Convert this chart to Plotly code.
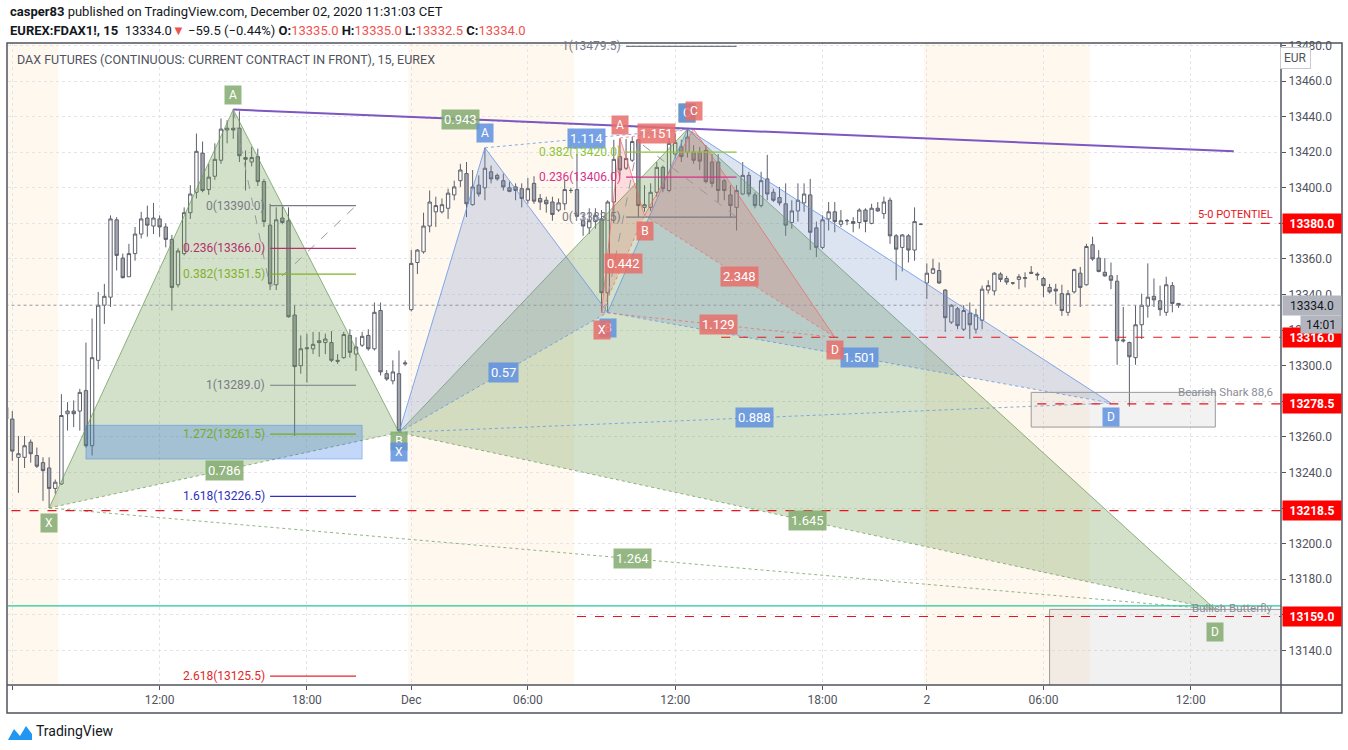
import plotly.graph_objects as go

# 15-minute bars of FDAX1!, index 0 = 30 Nov 2020 12:00 CET
bar_index = list(range(-25, 167))
opens = [
    13276.5, 13270.0, 13248.5, 13248.5, 13257.0, 13249.5, 13245.5, 13242.5, 13231.0, 13233.5,
    13273.0, 13274.5, 13274.5, 13286.0, 13255.0, 13303.0, 13334.0, 13338.5, 13382.0, 13360.5,
    13350.0, 13363.0, 13374.0, 13383.0, 13378.5, 13382.5, 13378.0, 13371.0, 13345.5, 13363.0,
    13386.0, 13397.5, 13419.5, 13399.0, 13406.5, 13415.5, 13432.5, 13433.5, 13433.5, 13417.0,
    13414.5, 13417.5, 13403.5, 13379.0, 13345.5, 13383.0, 13381.5, 13328.5, 13300.0, 13309.5,
    13309.5, 13314.0, 13313.0, 13313.0, 13303.0, 13304.5, 13317.0, 13306.5, 13311.5, 13317.0,
    13309.5, 13331.0, 13295.5, 13291.5, 13295.5, 13301.0, 13331.5, 13358.0, 13364.0, 13378.5,
    13386.5, 13386.5, 13388.5, 13396.0, 13404.0, 13408.0, 13390.5, 13401.5, 13400.0, 13409.0,
    13407.0, 13404.0, 13400.0, 13400.5, 13399.5, 13393.0, 13402.5, 13394.0, 13393.0, 13392.0,
    13387.5, 13391.0, 13398.5, 13399.0, 13381.5, 13377.5, 13381.0, 13382.5, 13341.0, 13392.0,
    13417.5, 13411.0, 13415.5, 13427.0, 13389.0, 13389.0, 13397.5, 13411.5, 13398.5, 13419.0,
    13423.0, 13420.0, 13420.0, 13420.0, 13421.0, 13414.5, 13414.5, 13404.0, 13396.0, 13389.0,
    13396.5, 13407.0, 13396.0, 13390.0, 13405.0, 13397.5, 13394.5, 13391.0, 13380.5, 13387.0,
    13391.5, 13396.0, 13377.5, 13366.5, 13382.5, 13386.5, 13379.5, 13381.5, 13381.0, 13380.5,
    13387.5, 13380.0, 13388.5, 13385.5, 13393.0, 13373.0, 13366.5, 13373.0, 13365.0, 13379.5,
    13346.5, 13352.0, 13353.5, 13342.5, 13324.5, 13332.0, 13320.5, 13329.5, 13320.5, 13325.5,
    13342.5, 13342.0, 13351.5, 13349.0, 13346.5, 13348.5, 13349.0, 13352.5, 13351.5, 13349.0,
    13344.0, 13343.0, 13340.5, 13330.0, 13341.5, 13352.0, 13345.5, 13368.0, 13360.5, 13352.5,
    13350.5, 13347.5, 13314.5, 13313.0, 13304.5, 13323.0, 13333.5, 13339.0, 13336.5, 13330.0,
    13345.0, 13335.0]
highs = [
    13278.0, 13274.5, 13260.5, 13260.5, 13258.5, 13254.0, 13248.5, 13248.5, 13236.0, 13284.0,
    13279.5, 13280.5, 13287.0, 13313.0, 13326.5, 13341.5, 13346.0, 13384.5, 13383.5, 13363.0,
    13368.5, 13378.0, 13386.5, 13390.0, 13391.5, 13384.5, 13380.0, 13373.5, 13366.0, 13389.0,
    13401.5, 13430.5, 13426.0, 13413.5, 13425.0, 13439.0, 13438.0, 13444.0, 13443.0, 13421.0,
    13423.0, 13422.0, 13405.0, 13391.0, 13389.0, 13389.5, 13389.0, 13334.0, 13317.0, 13318.0,
    13319.0, 13319.0, 13318.0, 13319.5, 13306.5, 13319.0, 13320.5, 13316.0, 13319.0, 13320.5,
    13335.5, 13335.5, 13297.5, 13303.0, 13308.5, 13303.0, 13365.0, 13365.5, 13386.0, 13398.5,
    13395.0, 13394.0, 13399.5, 13404.0, 13413.5, 13414.5, 13410.0, 13407.0, 13422.5, 13412.5,
    13408.0, 13408.0, 13403.5, 13402.5, 13402.5, 13405.5, 13406.5, 13396.5, 13395.0, 13395.0,
    13394.0, 13404.0, 13400.0, 13419.0, 13385.5, 13388.5, 13388.5, 13387.5, 13393.0, 13427.0,
    13427.5, 13427.5, 13428.5, 13427.5, 13401.5, 13402.5, 13414.5, 13412.5, 13428.5, 13430.5,
    13427.0, 13433.0, 13424.0, 13423.0, 13424.0, 13419.0, 13419.0, 13405.0, 13401.5, 13401.5,
    13414.5, 13409.0, 13397.5, 13409.0, 13418.5, 13399.5, 13400.5, 13402.5, 13393.0, 13402.5,
    13402.5, 13405.0, 13381.0, 13384.5, 13392.0, 13392.0, 13387.5, 13382.5, 13383.5, 13388.5,
    13388.5, 13391.0, 13392.0, 13395.0, 13394.5, 13374.0, 13374.0, 13374.0, 13389.0, 13380.0,
    13357.5, 13360.0, 13358.0, 13343.0, 13334.5, 13333.0, 13334.0, 13335.5, 13332.0, 13345.0,
    13348.0, 13352.5, 13352.5, 13350.5, 13347.0, 13351.5, 13352.5, 13356.0, 13352.5, 13350.0,
    13346.0, 13346.0, 13345.5, 13342.5, 13354.5, 13355.5, 13368.5, 13372.5, 13365.0, 13360.5,
    13358.0, 13351.0, 13333.0, 13313.5, 13334.0, 13340.5, 13357.5, 13349.0, 13345.0, 13350.0,
    13347.0, 13335.0]
lows = [
    13268.0, 13246.5, 13228.5, 13242.5, 13245.5, 13242.5, 13224.0, 13220.0, 13228.0, 13233.0,
    13263.5, 13265.5, 13263.5, 13254.0, 13249.5, 13298.0, 13323.5, 13333.0, 13353.5, 13349.0,
    13350.0, 13359.0, 13371.5, 13372.5, 13374.0, 13372.5, 13366.5, 13331.0, 13344.0, 13362.0,
    13382.5, 13394.0, 13397.5, 13396.0, 13404.5, 13413.5, 13425.0, 13427.5, 13414.5, 13398.5,
    13412.0, 13401.0, 13378.0, 13342.5, 13342.5, 13379.5, 13327.0, 13260.5, 13295.5, 13290.5,
    13306.5, 13305.0, 13306.5, 13302.0, 13301.0, 13304.0, 13304.5, 13297.0, 13310.5, 13308.5,
    13308.5, 13294.5, 13291.5, 13289.5, 13262.5, 13300.0, 13330.5, 13351.5, 13363.0, 13375.0,
    13378.0, 13385.5, 13382.5, 13393.0, 13400.5, 13383.5, 13390.0, 13395.0, 13393.0, 13402.5,
    13404.0, 13398.5, 13397.5, 13393.0, 13389.0, 13391.0, 13391.0, 13387.5, 13386.0, 13381.5,
    13386.5, 13387.5, 13397.0, 13383.5, 13373.0, 13374.0, 13377.0, 13330.0, 13330.0, 13380.0,
    13407.0, 13410.0, 13414.5, 13383.5, 13386.5, 13387.0, 13395.0, 13397.5, 13397.5, 13416.5,
    13414.5, 13417.0, 13413.5, 13410.0, 13402.5, 13400.5, 13392.0, 13393.0, 13383.5, 13376.0,
    13396.0, 13395.0, 13388.5, 13389.0, 13393.0, 13392.0, 13390.0, 13373.0, 13377.0, 13381.0,
    13386.5, 13365.0, 13361.0, 13365.5, 13376.0, 13375.0, 13378.0, 13379.0, 13375.0, 13377.0,
    13375.0, 13379.5, 13386.5, 13382.5, 13368.5, 13348.0, 13353.0, 13358.0, 13359.0, 13379.0,
    13337.5, 13351.5, 13346.0, 13319.0, 13323.5, 13320.5, 13319.5, 13315.0, 13318.0, 13320.5,
    13340.5, 13339.5, 13347.0, 13345.5, 13345.5, 13343.0, 13344.0, 13351.5, 13348.0, 13338.5,
    13340.5, 13334.5, 13328.0, 13328.0, 13340.5, 13333.0, 13345.0, 13359.0, 13352.5, 13350.0,
    13343.0, 13300.5, 13313.0, 13277.0, 13300.5, 13315.0, 13327.0, 13333.0, 13328.0, 13328.0,
    13330.0, 13332.5]
closes = [
    13270.0, 13252.0, 13250.5, 13255.0, 13250.5, 13243.5, 13241.0, 13231.0, 13234.5, 13272.0,
    13274.5, 13273.0, 13285.0, 13255.0, 13304.5, 13334.0, 13339.0, 13382.5, 13362.0, 13349.5,
    13363.0, 13374.0, 13382.5, 13379.0, 13383.0, 13378.0, 13371.0, 13344.0, 13364.5, 13386.0,
    13396.5, 13420.5, 13398.5, 13406.0, 13416.0, 13433.0, 13433.5, 13432.5, 13418.0, 13416.0,
    13417.0, 13403.5, 13381.0, 13346.0, 13382.0, 13380.5, 13327.5, 13299.5, 13309.5, 13310.0,
    13312.0, 13313.0, 13315.0, 13303.0, 13302.5, 13317.5, 13307.5, 13310.5, 13316.5, 13309.5,
    13330.0, 13296.5, 13292.5, 13296.5, 13263.5, 13301.5, 13357.5, 13365.0, 13378.5, 13392.0,
    13390.0, 13390.5, 13397.0, 13400.5, 13410.0, 13391.0, 13400.5, 13396.5, 13411.0, 13405.0,
    13405.0, 13400.5, 13398.0, 13398.5, 13394.0, 13399.5, 13392.5, 13392.0, 13391.0, 13385.0,
    13391.5, 13399.0, 13398.5, 13384.0, 13378.5, 13381.5, 13384.5, 13341.0, 13392.0, 13416.0,
    13410.0, 13416.5, 13426.0, 13390.0, 13390.5, 13397.5, 13411.5, 13399.5, 13425.0, 13425.5,
    13417.5, 13428.5, 13415.5, 13415.0, 13403.5, 13402.5, 13398.5, 13398.5, 13390.0, 13398.5,
    13407.0, 13396.5, 13390.0, 13404.0, 13396.5, 13393.0, 13391.5, 13379.0, 13387.0, 13393.0,
    13396.5, 13375.0, 13366.5, 13382.0, 13386.5, 13381.0, 13381.5, 13381.5, 13380.0, 13387.5,
    13381.0, 13388.5, 13387.0, 13392.0, 13373.0, 13365.5, 13373.5, 13365.0, 13381.0, 13379.5,
    13352.0, 13354.5, 13346.5, 13327.0, 13334.0, 13322.5, 13331.0, 13323.0, 13328.5, 13343.0,
    13345.0, 13352.0, 13348.5, 13347.0, 13346.5, 13350.0, 13349.5, 13352.0, 13351.0, 13345.0,
    13341.5, 13342.0, 13331.0, 13340.5, 13354.0, 13344.0, 13367.0, 13360.0, 13353.0, 13350.5,
    13348.0, 13314.0, 13314.0, 13305.0, 13323.0, 13334.0, 13338.5, 13337.0, 13331.5, 13345.5,
    13335.0, 13334.0]

# time axis
tick_idx = [-24, 0, 24, 41, 60, 84, 108, 125, 144, 168]
tick_text = ["06:00", "12:00", "18:00", "Dec", "06:00", "12:00", "18:00", "2", "06:00", "12:00"]
price_ticks = list(range(13140, 13481, 20))
session_start = [-30, 40.5, 124.5]
session_end = [-16.5, 67.5, 151.5]

last_price = 13334.0

# harmonic patterns: X, A, B, C, D pivots (bar index, price)
pat_names = ["X", "A", "B", "C", "D"]
green_k = [-18, 12, 39, 86, 172]
green_p = [13220.0, 13444.0, 13262.5, 13433.0, 13163.0]
green_ratios = [0.786, 0.943, 1.645, 1.264]
blue_k = [39, 53, 73, 86, 155]
blue_p = [13262.5, 13422.5, 13330.0, 13433.0, 13279.0]
blue_ratios = [0.57, 1.114, 1.501, 0.888]
red_k = [72, 75, 79, 87, 110]
red_p = [13330.0, 13428.0, 13384.5, 13433.0, 13316.0]
red_ratios = [0.442, 1.151, 2.348, 1.129]

# trend line
trend_k = [12, 175]
trend_p = [13444.0, 13420.5]

# fib tools
fib1_names = ["0", "0.236", "0.382", "1", "1.272", "1.618", "2.618"]
fib1_prices = [13390.0, 13366.0, 13351.5, 13289.0, 13261.5, 13226.5, 13125.5]
fib1_colors = ["#787b86", "#b5306e", "#82b02a", "#787b86", "#76ad1c", "#2f2fbf", "#e02828"]
fib1_span = [18, 32]
fib1_trend_k = [12, 18, 32]
fib1_trend_p = [13444.0, 13344.0, 13390.0]
fib2_names = ["1", "0.382", "0.236", "0"]
fib2_prices = [13479.5, 13420.0, 13406.0, 13383.5]
fib2_colors = ["#787b86", "#8cc43a", "#d8308a", "#787b86"]
fib2_span = [76, 94]
fib2_trend_k = [72.5, 78, 94]
fib2_trend_p = [13330.0, 13426.0, 13383.5]

# horizontal levels (price, first bar)
level_prices = [13380.0, 13316.0, 13278.5, 13218.5, 13159.0]
level_start = [153, 91.5, 143, -30, 68]
teal_level = 13165.0

# boxes
fibbox_k = [-12, 33]
fibbox_p = [13247.5, 13266.5]
shark_k = [142, 172]
shark_p = [13265.5, 13285.0]
butterfly_k = [145, 190]
butterfly_p = [13100.0, 13163.0]

X_RANGE = [-24.7, 182.7]
Y_RANGE = [13120.5, 13481.4]


def px(x):
    return (x - 8) / 1273.0


def py(y):
    return (685 - y) / 642.0


FONT = "Roboto"
fig = go.Figure()

fig.add_trace(go.Candlestick(
    x=bar_index, open=opens, high=highs, low=lows, close=closes,
    increasing=dict(fillcolor="#ffffff", line=dict(color="#5d606b", width=1)),
    decreasing=dict(fillcolor="#a3a6af", line=dict(color="#5d606b", width=1)),
    whiskerwidth=0, hoverinfo="skip", showlegend=False))

shapes = []
annotations = []

for s0, s1 in zip(session_start, session_end):
    shapes.append(dict(type="rect", xref="x", yref="paper", x0=s0, x1=s1, y0=0, y1=1,
                       fillcolor="rgba(255,160,50,0.08)", line=dict(width=0), layer="below"))

# boxes
shapes.append(dict(type="rect", x0=fibbox_k[0], x1=fibbox_k[1], y0=fibbox_p[0], y1=fibbox_p[1],
                   fillcolor="rgba(40,110,235,0.28)", line=dict(color="rgba(40,110,235,0.35)", width=1)))
shapes.append(dict(type="rect", x0=shark_k[0], x1=shark_k[1], y0=shark_p[0], y1=shark_p[1],
                   fillcolor="rgba(170,170,170,0.15)", line=dict(color="#9a9a9a", width=1)))
shapes.append(dict(type="rect", x0=butterfly_k[0], x1=butterfly_k[1], y0=butterfly_p[0], y1=butterfly_p[1],
                   fillcolor="rgba(180,180,180,0.18)", line=dict(color="#9a9a9a", width=1)))

# horizontal levels
shapes.append(dict(type="line", x0=-30, x1=190, y0=last_price, y1=last_price,
                   line=dict(color="#9598a1", width=1, dash="dot")))
shapes.append(dict(type="line", x0=-30, x1=190, y0=teal_level, y1=teal_level,
                   line=dict(color="#26c69a", width=1.2)))
for lp, ls in zip(level_prices, level_start):
    shapes.append(dict(type="line", x0=ls, x1=190, y0=lp, y1=lp,
                       line=dict(color="#e8141c", width=1.2, dash="dash")))

# harmonic patterns
patterns = [
    (green_k, green_p, green_ratios, "rgba(108,155,80,0.30)", "rgba(110,155,90,0.75)",
     "rgba(130,170,110,0.85)", [-15, 15, -9, 16, -23]),
    (blue_k, blue_p, blue_ratios, "rgba(110,140,195,0.24)", "rgba(100,150,230,0.8)",
     "rgba(95,145,225,0.85)", [-20, 15, -16, 16, -14]),
    (red_k, red_p, red_ratios, "rgba(239,83,80,0.20)", "rgba(239,100,100,0.7)",
     "rgba(232,110,106,0.85)", [-18, 13, -16, 18, -13]),
]
for ks, ps, ratios, fillc, edge, labc, shifts in patterns:
    for tri in ([0, 1, 2, 0], [2, 3, 4, 2]):
        fig.add_trace(go.Scatter(x=[ks[i] for i in tri], y=[ps[i] for i in tri], mode="lines",
                                 fill="toself", fillcolor=fillc, line=dict(width=0),
                                 hoverinfo="skip", showlegend=False))
    fig.add_trace(go.Scatter(x=ks, y=ps, mode="lines", line=dict(color=edge, width=1),
                             hoverinfo="skip", showlegend=False))
    pairs = [(0, 2), (1, 3), (2, 4), (0, 4)]
    for (a, b), r in zip(pairs, ratios):
        fig.add_trace(go.Scatter(x=[ks[a], ks[b]], y=[ps[a], ps[b]], mode="lines",
                                 line=dict(color=edge, width=1, dash="dot"),
                                 hoverinfo="skip", showlegend=False))
        annotations.append(dict(x=(ks[a] + ks[b]) / 2, y=(ps[a] + ps[b]) / 2, text=str(r),
                                showarrow=False, bgcolor=labc, borderpad=2,
                                font=dict(color="white", size=13, family=FONT)))
    for name, kk, pp, sh in zip(pat_names, ks, ps, shifts):
        annotations.append(dict(x=kk, y=pp, text=name, showarrow=False, yshift=sh,
                                bgcolor=labc, borderpad=2, width=12,
                                font=dict(color="white", size=12, family=FONT)))

# trend line
fig.add_trace(go.Scatter(x=trend_k, y=trend_p, mode="lines", line=dict(color="#7e57c2", width=2),
                         hoverinfo="skip", showlegend=False))

# fib tools
for names, prices, colors, span, tk, tp in [
        (fib1_names, fib1_prices, fib1_colors, fib1_span, fib1_trend_k, fib1_trend_p),
        (fib2_names, fib2_prices, fib2_colors, fib2_span, fib2_trend_k, fib2_trend_p)]:
    fig.add_trace(go.Scatter(x=tk, y=tp, mode="lines", line=dict(color="#9598a1", width=1, dash="dash"),
                             hoverinfo="skip", showlegend=False))
    for n, pr, c in zip(names, prices, colors):
        shapes.append(dict(type="line", x0=span[0], x1=span[1], y0=pr, y1=pr,
                           line=dict(color=c, width=1.2)))
        annotations.append(dict(x=span[0], y=pr, text=f"{n}({pr:.1f})", showarrow=False,
                                xanchor="right", xshift=-3, font=dict(color=c, size=12, family=FONT)))

# pattern box texts
annotations.append(dict(x=1, xref="paper", y=level_prices[0], text="5-0 POTENTIEL", showarrow=False,
                        xanchor="right", xshift=-6, yshift=9, font=dict(color="#e8141c", size=11, family=FONT)))
annotations.append(dict(x=1, xref="paper", y=shark_p[1], text="Bearish Shark 88,6", showarrow=False,
                        xanchor="right", xshift=-6, yshift=0, font=dict(color="#8a8d96", size=11.5, family=FONT)))
annotations.append(dict(x=1, xref="paper", y=butterfly_p[1], text="Bullish Butterfly", showarrow=False,
                        xanchor="right", xshift=-6, yshift=1, font=dict(color="#8a8d96", size=11.5, family=FONT)))

# price scale labels
for lp in level_prices:
    annotations.append(dict(x=1, xref="paper", y=lp, text=f"<b>{lp:.1f}</b>", showarrow=False,
                            xanchor="left", xshift=1, bgcolor="#ff0000", width=54, height=15, borderpad=2,
                            font=dict(color="white", size=12, family=FONT)))
annotations.append(dict(x=1, xref="paper", y=last_price, text=f"{last_price:.1f}", showarrow=False,
                        xanchor="left", xshift=1, bgcolor="#b2b5be", width=54, height=15, borderpad=2,
                        font=dict(color="#131722", size=12, family=FONT)))
annotations.append(dict(x=1, xref="paper", y=last_price, text="14:01", showarrow=False,
                        xanchor="left", xshift=19, yshift=-19, bgcolor="#b2b5be", width=36, height=13,
                        borderpad=2, font=dict(color="#131722", size=12, family=FONT)))
annotations.append(dict(x=px(1311), y=py(58), xref="paper", yref="paper", text="EUR", showarrow=False,
                        yanchor="middle", bordercolor="#c8cad0", borderwidth=1, borderpad=3, bgcolor="white",
                        font=dict(color="#50535e", size=12, family=FONT)))

# header and titles
annotations.append(dict(x=px(8), y=py(12), xref="paper", yref="paper", xanchor="left", yanchor="middle",
                        showarrow=False,
                        text="<b>casper83</b> published on TradingView.com, December 02, 2020 11:31:03 CET",
                        font=dict(color="#131722", size=13, family=FONT)))
red = "#ef5350"
hdr = ("<b>EUREX:FDAX1!, 15</b>  13334.0<span style='color:%s'>▼</span> −59.5 (−0.44%%) "
       "<b>O:</b><span style='color:%s'>13335.0</span> <b>H:</b><span style='color:%s'>13335.0</span> "
       "<b>L:</b><span style='color:%s'>13332.5</span> <b>C:</b><span style='color:%s'>13334.0</span>"
       % (red, red, red, red, red))
annotations.append(dict(x=px(8), y=py(30), xref="paper", yref="paper", xanchor="left", yanchor="middle",
                        showarrow=False, text=hdr, font=dict(color="#131722", size=13, family=FONT)))
annotations.append(dict(x=px(15), y=py(60), xref="paper", yref="paper", xanchor="left", yanchor="middle",
                        showarrow=False,
                        text="DAX FUTURES (CONTINUOUS: CURRENT CONTRACT IN FRONT), 15, EUREX",
                        font=dict(color="#50535e", size=12.5, family=FONT)))
annotations.append(dict(x=px(34), y=py(731), xref="paper", yref="paper", xanchor="left", yanchor="middle",
                        showarrow=False, text="TradingView", font=dict(color="#131722", size=14, family=FONT)))

# TradingView logo
logo = [(8, 740), (14, 729), (20, 736), (26, 726), (32, 734), (32, 740)]
shapes.append(dict(type="path", xref="paper", yref="paper",
                   path="M " + " L ".join(f"{px(a):.5f},{py(b):.5f}" for a, b in logo) + " Z",
                   fillcolor="#2196f3", line=dict(width=0)))

# chart frame
frame = "#50535e"
shapes.append(dict(type="rect", xref="paper", yref="paper", x0=px(7), x1=px(1342), y0=py(713), y1=py(43),
                   line=dict(color=frame, width=1.5)))
shapes.append(dict(type="line", xref="paper", yref="paper", x0=1, x1=1, y0=py(713), y1=1,
                   line=dict(color=frame, width=1.5)))
shapes.append(dict(type="line", xref="paper", yref="paper", x0=px(7), x1=px(1342), y0=0, y1=0,
                   line=dict(color=frame, width=1.5)))

fig.update_layout(
    width=1348, height=750,
    margin=dict(l=8, r=67, t=43, b=65),
    paper_bgcolor="white", plot_bgcolor="white",
    font=dict(family=FONT, color="#50535e", size=12),
    showlegend=False, boxgap=0.22,
    shapes=shapes, annotations=annotations,
    xaxis=dict(range=X_RANGE, tickmode="array", tickvals=tick_idx, ticktext=tick_text,
               showgrid=True, gridcolor="#e3e5ea", griddash="dot", zeroline=False,
               ticks="outside", ticklen=4, tickcolor=frame, showline=False,
               rangeslider=dict(visible=False), tickfont=dict(size=12, color="#50535e")),
    yaxis=dict(range=Y_RANGE, side="right", tickmode="array", tickvals=price_ticks,
               ticktext=[f"{v:.1f}" for v in price_ticks],
               showgrid=True, gridcolor="#e3e5ea", griddash="dot", zeroline=False,
               ticks="outside", ticklen=4, tickcolor=frame, showline=False,
               tickfont=dict(size=12, color="#50535e")),
)

# the page body keeps no margin so the figure sits at the window's corner
fig.write_html("out.html", config={"displayModeBar": False},
               post_script="document.body.style.margin='0';")
